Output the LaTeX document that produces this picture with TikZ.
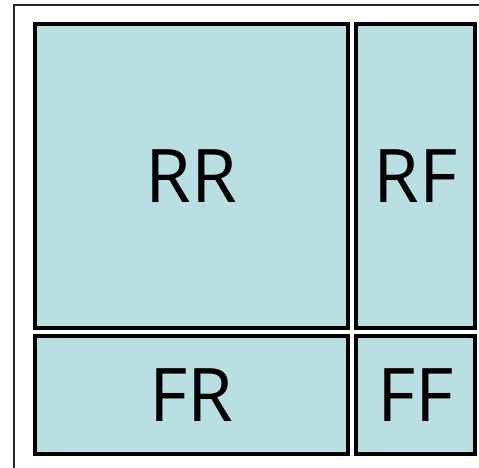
\documentclass[tikz,border=0pt]{standalone}
\usepackage{fontspec}
\setmainfont{Open Sans}
\definecolor{cellfill}{RGB}{185,223,226}
\begin{document}
\begin{tikzpicture}[x=1pt,y=-1pt,
  cell/.style={draw=black, line width=4pt, fill=cellfill, inner sep=0pt, outer sep=0pt,
    font=\fontsize{74}{74}\selectfont, text=black}]
  \useasboundingbox (0,0) rectangle (479,468);
  \clip (0,0) rectangle (479,468);
  % thin frame around the grid
  \draw[line width=1.3pt, black!85] (14,5) rectangle (500,490);
  % four cells
  \node[cell, minimum width=312.5pt, minimum height=304pt]   (rr) at (191.25,176)  {RR};
  \node[cell, minimum width=119.8pt, minimum height=304pt]   (rf) at (415.4,176)   {RF};
  \node[cell, minimum width=312.5pt, minimum height=118.2pt] (fr) at (191.25,394.6) {FR};
  \node[cell, minimum width=119.8pt, minimum height=118.2pt] (ff) at (415.4,394.6)  {FF};
\end{tikzpicture}
\end{document}
